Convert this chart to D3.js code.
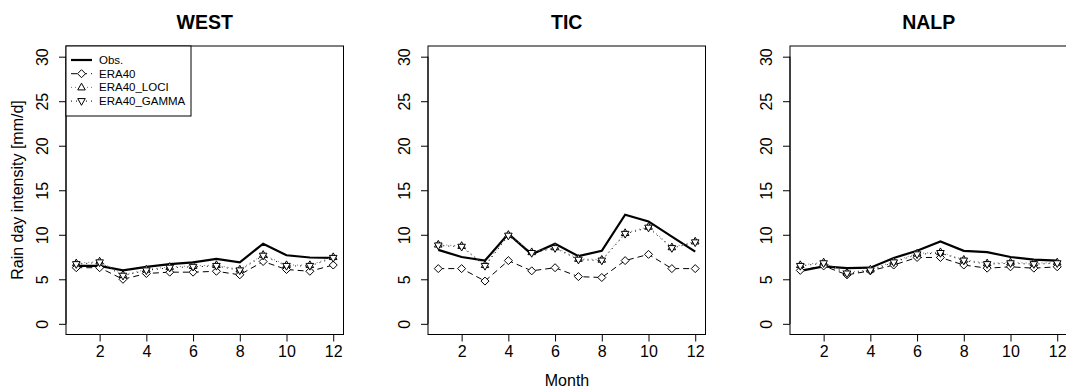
<!DOCTYPE html>
<html><head><meta charset="utf-8">
<script src="https://cdn.jsdelivr.net/npm/d3@7"></script>
<style>body{margin:0;background:#fff}svg{display:block}</style>
</head><body>
<svg id="c" width="1066" height="390"></svg>
<script>
const months = [1,2,3,4,5,6,7,8,9,10,11,12];
const regions = ["WEST","TIC","NALP"];
const yTicks = [0,5,10,15,20,25,30];
const xTicks = [2,4,6,8,10,12];
const seriesNames = ["Obs.","ERA40","ERA40_LOCI","ERA40_GAMMA"];

const westObs   = [6.5,6.5,6.0,6.4,6.7,6.9,7.3,6.9,9.0,7.7,7.45,7.4];
const westEra   = [6.3,6.3,5.0,5.65,5.8,5.8,5.9,5.5,7.0,6.1,5.9,6.6];
const westLoci  = [6.8,7.0,5.5,6.1,6.4,6.5,6.6,6.1,7.75,6.6,6.6,7.5];
const westGamma = [6.7,6.9,5.4,6.0,6.3,6.4,6.5,6.0,7.65,6.5,6.5,7.4];

const ticObs   = [8.3,7.5,7.1,10.1,7.8,9.0,7.6,8.2,12.25,11.5,9.8,8.1];
const ticEra   = [6.2,6.2,4.8,7.1,5.95,6.3,5.3,5.2,7.1,7.8,6.2,6.2];
const ticLoci  = [8.9,8.75,6.6,10.0,8.05,8.6,7.3,7.2,10.2,10.9,8.6,9.25];
const ticGamma = [8.8,8.65,6.5,9.9,7.95,8.5,7.2,7.1,10.1,10.8,8.5,9.15];

const nalpObs   = [5.95,6.45,6.25,6.3,7.4,8.2,9.25,8.2,8.05,7.5,7.2,7.1];
const nalpEra   = [6.0,6.5,5.5,5.95,6.6,7.45,7.45,6.6,6.25,6.4,6.25,6.4];
const nalpLoci  = [6.6,6.9,5.75,6.1,7.0,7.9,8.05,7.2,6.8,6.9,6.8,6.9];
const nalpGamma = [6.5,6.8,5.65,6.0,6.9,7.8,7.95,7.1,6.7,6.8,6.7,6.8];

const panelData = [
  [westObs, westEra, westLoci, westGamma],
  [ticObs, ticEra, ticLoci, ticGamma],
  [nalpObs, nalpEra, nalpLoci, nalpGamma]
];

const svg = d3.select("#c");
const font = "'Liberation Sans', Arial, Helvetica, sans-serif";
const styles = [
  {stroke:"#000", width:2.2, dash:null, sym:null},
  {stroke:"#000", width:1, dash:"6,4", sym:"diamond"},
  {stroke:"#777", width:1, dash:"1,3", sym:"up"},
  {stroke:"#000", width:1, dash:"1,4", sym:"down"}
];

function symPath(sym, x, y) {
  if (sym === "diamond") { const r=4; return `M${x},${y-r}L${x+r},${y}L${x},${y+r}L${x-r},${y}Z`; }
  if (sym === "up") { const r=4.2; return `M${x},${y-r}L${x+r*0.9},${y+r*0.6}L${x-r*0.9},${y+r*0.6}Z`; }
  if (sym === "down") { const r=4.2; return `M${x},${y+r}L${x+r*0.9},${y-r*0.6}L${x-r*0.9},${y-r*0.6}Z`; }
  return "";
}

const left0 = 66, step = 362, pw = 277.5, plotTop = 46, plotBottom = 334.5;
const y = d3.scaleLinear().domain([-1.2, 31.2]).range([plotBottom, plotTop]);

regions.forEach((reg, pi) => {
  const x0 = left0 + pi*step;
  const x = d3.scaleLinear().domain([0.56, 12.44]).range([x0, x0+pw]);
  const g = svg.append("g");

  g.append("text").attr("x", x0 + pw/2).attr("y", 29).attr("text-anchor","middle")
    .attr("font-family", font).attr("font-weight","bold").attr("font-size", 19.5).text(reg);

  g.append("rect").attr("x", x0).attr("y", plotTop).attr("width", pw).attr("height", plotBottom-plotTop)
    .attr("fill","none").attr("stroke","#000").attr("stroke-width",1);

  const ya = g.append("g").attr("transform", `translate(${x0},0)`)
    .call(d3.axisLeft(y).tickValues(yTicks).tickSize(7).tickPadding(0).tickFormat(d3.format("d")));
  ya.select(".domain").attr("d", `M0,${y(0)}V${y(30)}`);
  ya.selectAll("text").remove();
  ya.selectAll(".tick").append("text")
    .attr("transform","translate(-18,0) rotate(-90)")
    .attr("text-anchor","middle").attr("fill","#000")
    .attr("font-family", font).attr("font-size", 16).text(d => d);

  const xa = g.append("g").attr("transform", `translate(0,${plotBottom})`)
    .call(d3.axisBottom(x).tickValues(xTicks).tickSize(7).tickPadding(4));
  xa.select(".domain").attr("d", `M${x(2)},0H${x(12)}`);
  xa.selectAll("text").attr("font-family", font).attr("font-size", 16).attr("fill","#000");

  panelData[pi].forEach((vals, si) => {
    const st = styles[si];
    const line = d3.line().x((d,i) => x(months[i])).y(d => y(d));
    g.append("path").datum(vals).attr("d", line).attr("fill","none")
      .attr("stroke", st.stroke).attr("stroke-width", st.width)
      .attr("stroke-dasharray", st.dash);
    if (st.sym) {
      g.selectAll(null).data(vals).enter().append("path")
        .attr("d", (d,i) => symPath(st.sym, x(months[i]), y(d)))
        .attr("fill","#fff").attr("stroke","#000").attr("stroke-width",1);
    }
  });

  if (pi === 0) {
    const lg = g.append("g");
    lg.append("rect").attr("x", x0).attr("y", plotTop).attr("width", 125).attr("height", 70)
      .attr("fill","#fff").attr("stroke","#000").attr("stroke-width",1);
    seriesNames.forEach((nm, si) => {
      const st = styles[si];
      const ly = plotTop + 14 + si*13.7;
      lg.append("line").attr("x1", x0+5).attr("x2", x0+26).attr("y1", ly).attr("y2", ly)
        .attr("stroke", st.stroke).attr("stroke-width", st.width).attr("stroke-dasharray", st.dash);
      if (st.sym) lg.append("path").attr("d", symPath(st.sym, x0+15.5, ly))
        .attr("fill","#fff").attr("stroke","#000").attr("stroke-width",1);
      lg.append("text").attr("x", x0+33).attr("y", ly+4).attr("font-family", font)
        .attr("font-size", 11.5).text(nm);
    });
  }
});

svg.append("text").attr("transform","translate(23,190) rotate(-90)").attr("text-anchor","middle")
  .attr("font-family", font).attr("font-size", 16).text("Rain day intensity [mm/d]");
svg.append("text").attr("x", 567).attr("y", 386).attr("text-anchor","middle")
  .attr("font-family", font).attr("font-size", 16).text("Month");
</script>
</body></html>
